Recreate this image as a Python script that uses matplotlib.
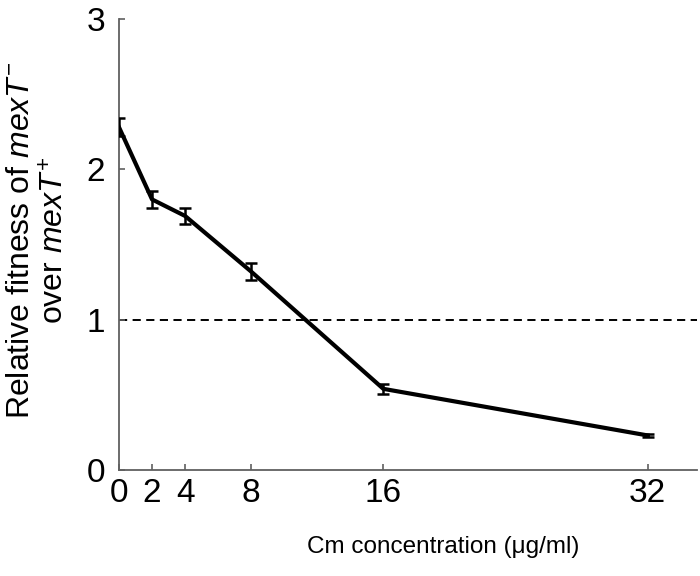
import matplotlib.pyplot as plt
import numpy as np

plt.rcParams["font.family"] = ["Liberation Sans", "DejaVu Sans"]
plt.rcParams["mathtext.fontset"] = "custom"
plt.rcParams["mathtext.rm"] = "Liberation Sans"
plt.rcParams["mathtext.it"] = "Liberation Sans:italic"
plt.rcParams["mathtext.sf"] = "Liberation Sans"

# data
cm_conc = [0, 2, 4, 8, 16, 32]
fitness = [2.28, 1.80, 1.69, 1.32, 0.54, 0.23]
fitness_err = [0.06, 0.058, 0.056, 0.055, 0.033, 0.01]
x_ticks = [0, 2, 4, 8, 16, 32]
y_ticks = [0, 1, 2, 3]
neutral_level = 1.0

fig = plt.figure(figsize=(7.0, 5.76), dpi=100)
ax = fig.add_axes([0.17, 0.184, 0.826, 0.783])

ax.axhline(neutral_level, color="black", lw=1.4, ls=(0, (4.2, 2.8)), zorder=1)
ax.errorbar(cm_conc, fitness, yerr=fitness_err, color="black", lw=3.0,
            elinewidth=1.8, capsize=4.5, capthick=1.8, zorder=3)

ax.set_xlim(0, 35)
ax.set_ylim(0, 3)
ax.set_xticks(x_ticks)
ax.set_yticks(y_ticks)
ax.tick_params(axis="both", direction="in", length=4.5, width=1.2,
               color="#606060", labelsize=24)
ax.tick_params(axis="y", pad=10)
ax.tick_params(axis="x", pad=6)

for side in ["top", "right"]:
    ax.spines[side].set_visible(False)
for side in ["left", "bottom"]:
    ax.spines[side].set_color("#606060")
    ax.spines[side].set_linewidth(1.3)

ax.set_xlabel("Cm concentration (\u03bcg/ml)", fontsize=17.5)
ax.xaxis.set_label_coords(0.56, -0.147)
ax.set_ylabel("Relative fitness of $\\mathit{mexT}^{-}$\nover $\\mathit{mexT}^{+}$",
              fontsize=23, linespacing=1.2)
ax.yaxis.set_label_coords(-0.083, 0.51)

fig.savefig("out.png", dpi=100)
